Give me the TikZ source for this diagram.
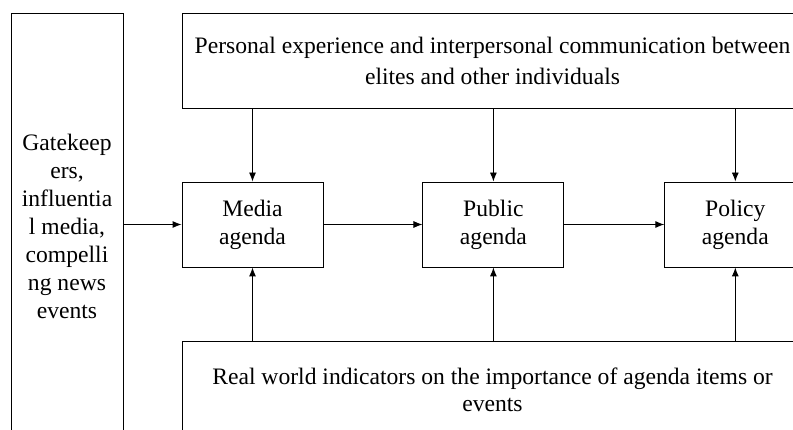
\documentclass[tikz,border=0pt]{standalone}
\usepackage{fontspec}
\setmainfont{Liberation Serif}
\usetikzlibrary{positioning,arrows.meta}

\begin{document}
\begin{tikzpicture}[x=1pt, y=-1pt, node distance=99pt,
  every node/.style={draw, align=center, line width=0.9pt, inner sep=0pt, font=\fontsize{23.6}{28}\selectfont},
  agenda/.style={minimum width=141pt, minimum height=85pt},
  band/.style={minimum width=621pt},
  >={Latex[length=9pt,width=7pt]}]
        \useasboundingbox (0,0) rectangle (793,430);
        \clip (0,0) rectangle (793,430);
        \node[agenda] (media) at (252.5,224.5) {Media\\agenda};
        \node[agenda, right=of media] (public) {Public\\agenda};
        \node[agenda, right=100pt of public] (policy) {Policy\\agenda};
        \node[band, minimum height=95pt, font=\fontsize{23.6}{31}\selectfont] (personal) at (492.5,60.5) {Personal experience and interpersonal communication between\\elites and other individuals};
        \node[band, minimum height=98pt, font=\fontsize{23.6}{26.5}\selectfont] (realworld) at (492.5,390) {Real world indicators on the importance of agenda items or\\events};
        \node[minimum width=112pt, minimum height=427pt] (gatekeepers) at (67,226.5) {Gatekeep\\ers,\\influentia\\l media,\\compelli\\ng news\\events};

        \draw[->, line width=0.9pt] (gatekeepers.east |- media) -- (media);
        \draw[->, line width=0.9pt] (media) -- (public);
        \draw[->, line width=0.9pt] (public) -- (policy);
        \foreach \n in {media, public, policy} {
            \draw[->, line width=0.9pt] (personal.south -| \n) -- (\n);
            \draw[->, line width=0.9pt] (realworld.north -| \n) -- (\n);
        }
\end{tikzpicture}
\end{document}
